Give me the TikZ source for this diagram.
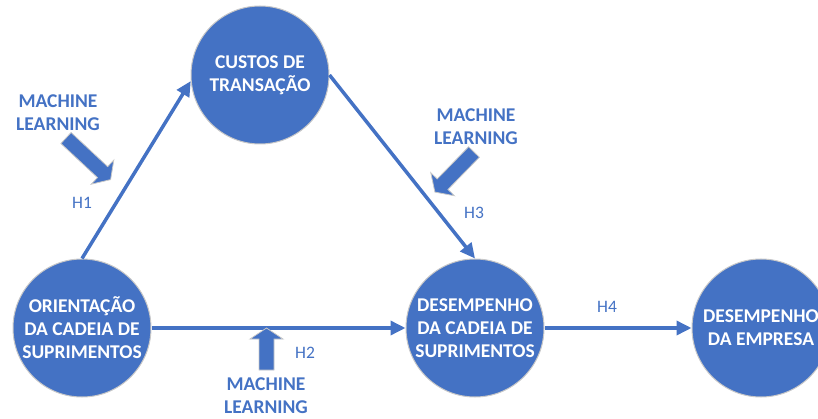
\documentclass[tikz,border=0pt]{standalone}
\usepackage{fontspec}
\setmainfont{Carlito}
\usetikzlibrary{arrows.meta}
\definecolor{bl}{HTML}{4472C4}
\definecolor{rim}{HTML}{C8C8C8}
\newcommand\mlarrow[4]{%
  \begin{scope}[shift={(#1,#2)},rotate=#3]
    \draw[blk] (0,-7.5) -- ({#4-11},-7.5) -- ({#4-11},-16.5) -- (#4,0) -- ({#4-11},16.5) -- ({#4-11},7.5) -- (0,7.5) -- cycle;
  \end{scope}}
\begin{document}
\begin{tikzpicture}[x=1pt,y=-1pt,
  circ/.style={circle,fill=bl,draw=rim,line width=1pt,minimum size=138pt,inner sep=0pt,text=white,font=\bfseries\fontsize{19.5}{23}\selectfont,align=center},
  ml/.style={text=bl,font=\bfseries\fontsize{19.5}{23}\selectfont,align=center,inner sep=0pt},
  hl/.style={text=bl,font=\fontsize{17.5}{21}\selectfont,inner sep=0pt},
  conn/.style={draw=bl,line width=3.5pt,-{Triangle[length=15pt,width=14pt]}},
  blk/.style={fill=bl,draw=rim,line width=0.8pt,line join=miter}]
\useasboundingbox (0,0) rectangle (818,419);
% circles
\node[circ] (ct) at (260,75) {CUSTOS DE\\TRANSAÇÃO};
\node[circ] (ol) at (82,328) {ORIENTAÇÃO\\DA CADEIA DE\\SUPRIMENTOS};
\node[circ] (dc) at (475,328) {DESEMPENHO\\DA CADEIA DE\\SUPRIMENTOS};
\node[circ] (de) at (761,328) {DESEMPENHO\\DA EMPRESA};
% connectors
\draw[conn] (ol.north) -- (ct.185);
\draw[conn] (ct.east) -- (dc.north);
\draw[conn] (ol.east) -- (dc.west);
\draw[conn] (dc.east) -- (de.west);
% hypothesis labels
\node[hl] (h1) at (82,203) {H1};
\node[hl] (h2) at (305,353) {H2};
\node[hl] (h3) at (474,213) {H3};
\node[hl] (h4) at (607,307) {H4};
% machine learning labels
\node[ml] (ml1) at (58,113) {MACHINE\\LEARNING};
\node[ml] (ml2) at (476,127) {MACHINE\\LEARNING};
\node[ml] (ml3) at (266,396) {MACHINE\\LEARNING};
% block arrows
\mlarrow{66}{138}{-43}{61}
\mlarrow{474}{152}{-134.3}{56}
\mlarrow{266.5}{370}{90}{42}
\end{tikzpicture}
\end{document}
